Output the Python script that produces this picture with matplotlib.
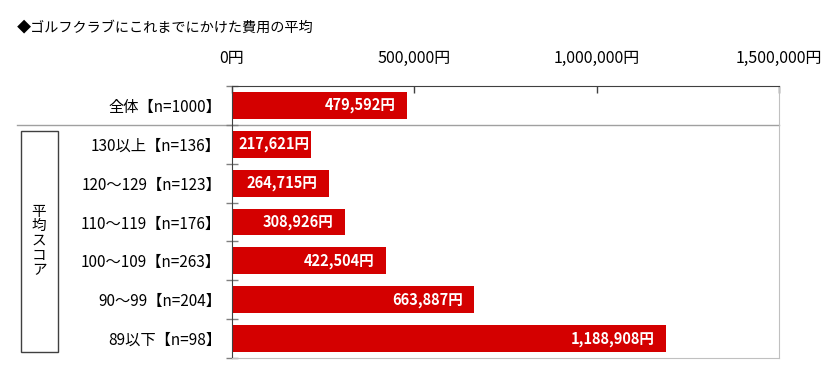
import matplotlib
matplotlib.use("Agg")
from matplotlib import pyplot as plt
from matplotlib.patches import Rectangle

plt.rcParams['font.family'] = ['Noto Sans CJK JP', 'DejaVu Sans']

title = "◆ゴルフクラブにこれまでにかけた費用の平均"
categories = ["全体【n=1000】", "130以上【n=136】", "120～129【n=123】",
              "110～119【n=176】", "100～109【n=263】", "90～99【n=204】",
              "89以下【n=98】"]
costs = [479592, 217621, 264715, 308926, 422504, 663887, 1188908]
xticks = [0, 500000, 1000000, 1500000]
group_label = "平均スコア"

bar_color = '#d40000'

fig = plt.figure(figsize=(8.34, 3.71), dpi=100)
ax = fig.add_axes([232 / 834, 13 / 371, 547 / 834, 272 / 371])

ypos = list(range(len(categories)))
ax.barh(ypos, costs, height=0.69, color=bar_color, zorder=2)

labels = []
for y, v in zip(ypos, costs):
    t = ax.annotate(f"{v:,}円", (v, y), xytext=(-8, 0), textcoords='offset points',
                    ha='right', va='center', color='white', fontsize=10.5,
                    fontweight='bold', zorder=3)
    labels.append((t, y))

ax.set_xlim(0, 1500000)
ax.set_ylim(len(categories) - 0.5, -0.5)

ax.xaxis.tick_top()
ax.set_xticks(xticks)
ax.set_xticklabels([f"{t:,}円" for t in xticks], fontsize=11.5)
ax.tick_params(axis='x', direction='in', length=5, width=1, color='#404040',
               pad=14)

ax.set_yticks(ypos)
ax.set_yticklabels(categories, fontsize=11)
ax.tick_params(axis='y', which='major', length=0, pad=8)
ax.set_yticks([i - 0.5 for i in range(len(categories) + 1)], minor=True)
ax.tick_params(axis='y', which='minor', direction='inout', length=8,
               width=1, color='#808080')

for side in ['top', 'left']:
    ax.spines[side].set_color('#404040')
for side in ['right', 'bottom']:
    ax.spines[side].set_color('#c0c0c0')

# separator between total and score groups
ax.plot([-215 / 547, 1], [0.5, 0.5], transform=ax.get_yaxis_transform(),
        color='#a0a0a0', lw=1, clip_on=False, zorder=1)

# bracket box with vertical label
fig.patches.append(Rectangle((21 / 834, 19 / 371), 37 / 834, 221 / 371,
                             transform=fig.transFigure, fill=False,
                             edgecolor='#404040', lw=1))
fig.text(39 / 834, 1 - 241 / 371, "\n".join(group_label), ha='center',
         va='center', fontsize=10.5, linespacing=1.05)

fig.text(17 / 834, 1 - 27 / 371, title, ha='left', va='center', fontsize=10.2)

# labels that do not fit inside the bar start at the bar base instead
renderer = fig.canvas.get_renderer()
ax_left = ax.get_window_extent(renderer).x0
for t, y in labels:
    if t.get_window_extent(renderer).x0 < ax_left + 5:
        t.xy = (0, y)
        t.set_ha('left')
        t.set_position((5, 0))

plt.savefig('out.png', dpi=100)
